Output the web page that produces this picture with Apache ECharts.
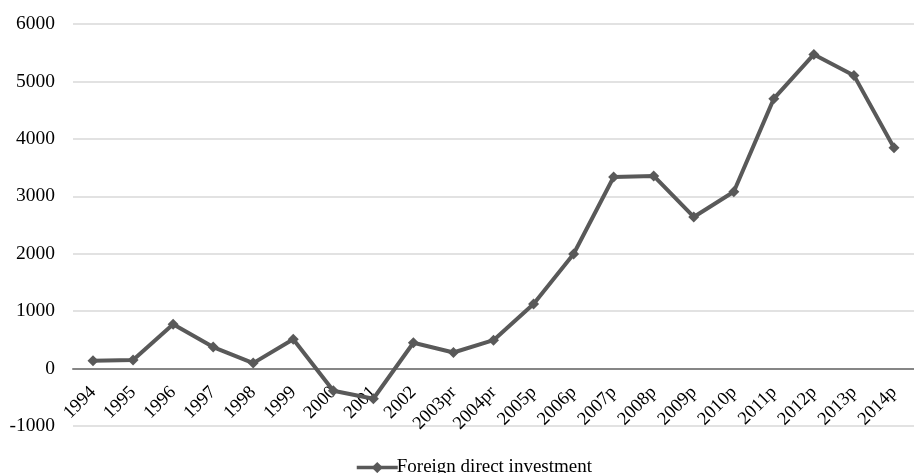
<!DOCTYPE html>
<html>
<head>
<meta charset="utf-8">
<script src="https://cdn.jsdelivr.net/npm/echarts@6/dist/echarts.min.js"></script>
<style>
  html, body { margin: 0; padding: 0; background: #fff; }
  #chart { width: 914px; height: 473px; }
</style>
</head>
<body>
<div id="chart"></div>
<script>
// Years of the series (p = provisional, pr = partially revised)
const years = ['1994', '1995', '1996', '1997', '1998', '1999', '2000', '2001', '2002',
  '2003pr', '2004pr', '2005p', '2006p', '2007p', '2008p', '2009p', '2010p',
  '2011p', '2012p', '2013p', '2014p'];

// Foreign direct investment by year
const fdiValues = [135, 150, 770, 375, 95, 510, -385, -525, 450,
  280, 495, 1125, 1995, 3335, 3355, 2640, 3080, 4700, 5470, 5105, 3845];

const yTicks = { min: -1000, max: 6000, step: 1000 };
const seriesName = 'Foreign direct investment';

const serif = "'Liberation Serif', 'Times New Roman', serif";

// Plot area geometry; the category axis is shifted up so it sits on the zero line
const gridTop = 24, gridBottom = 47, chartHeight = 473;
const plotHeight = chartHeight - gridTop - gridBottom;
const zeroOffset = plotHeight * (0 - yTicks.min) / (yTicks.max - yTicks.min);

const chart = echarts.init(document.getElementById('chart'));

chart.setOption({
  animation: false,
  backgroundColor: '#fff',
  grid: { left: 73, right: -8, top: gridTop, bottom: gridBottom, containLabel: false },
  legend: {
    data: [seriesName],
    left: 350,
    top: 453,
    itemWidth: 41,
    itemHeight: 14,
    itemGap: 2,
    lineStyle: { width: 3.5, color: '#595959' },
    textStyle: { fontFamily: serif, fontSize: 19, color: '#000', padding: [0, 0, 0, -6] }
  },
  xAxis: {
    type: 'category',
    data: years,
    boundaryGap: true,
    offset: -zeroOffset,
    axisLine: { onZero: false, lineStyle: { color: '#868686', width: 2 } },
    axisTick: { show: false },
    axisLabel: {
      rotate: 45,
      interval: 0,
      margin: 21,
      fontFamily: serif,
      fontSize: 18.5,
      color: '#000'
    }
  },
  yAxis: {
    type: 'value',
    min: yTicks.min,
    max: yTicks.max,
    interval: yTicks.step,
    axisLine: { show: false },
    axisTick: { show: false },
    axisLabel: {
      fontFamily: serif,
      fontSize: 19.5,
      color: '#000',
      margin: 18,
      formatter: v => String(v)
    },
    splitLine: { lineStyle: { color: '#d9d9d9', width: 1.5 } }
  },
  series: [{
    name: seriesName,
    type: 'line',
    data: fdiValues,
    symbol: 'diamond',
    symbolSize: 11,
    lineStyle: { color: '#595959', width: 4 },
    itemStyle: { color: '#595959' }
  }]
});
</script>
</body>
</html>
